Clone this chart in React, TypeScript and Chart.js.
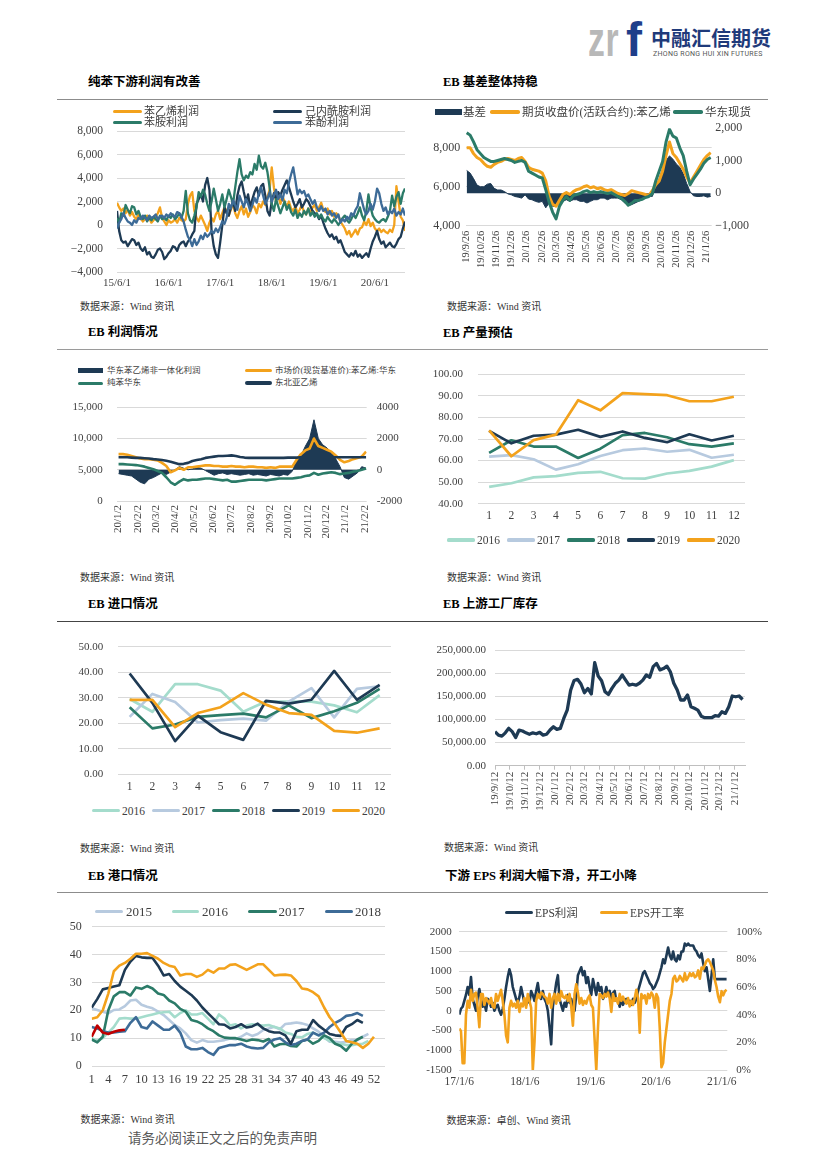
import React, { useEffect, useRef } from "react";
import { Chart, registerables } from "chart.js";
Chart.register(...registerables);

const SERIF = "'Liberation Serif', 'Noto Sans CJK SC', serif";
const CJK = "'Noto Sans CJK SC', sans-serif";
const ORANGE = "#f3a21c";
const NAVY = "#1e3a54";
const GREEN = "#2b7b68";
const STEEL = "#3d6b97";
const MINT = "#a4dccc";
const PALE = "#b7cadf";
const RED = "#c00000";
const GRID = "#d9d9d9";
const TICK = "#404040";

// ---------- Chart 1: 纯苯下游利润有改善 (half-month steps from 15/6/1) ----------
const C1_NAMES = ["苯乙烯利润", "己内酰胺利润", "苯胺利润", "苯酚利润"];
const C1_TICKS = ["15/6/1", "16/6/1", "17/6/1", "18/6/1", "19/6/1", "20/6/1"];
const C1_Y_TICKS = [-4000, -2000, 0, 2000, 4000, 6000, 8000];
const C1_STEP_MONTHS = 0.5;
const C1_STYRENE = [
  1900, 1500, 1200, 1400, 1000, 1300, 800, 1100, 700, 500,
  900, 600, 300, 500, 800, 600, 200, 400, 700, 1000,
  1500, 600, 300, 0, 400, 200, 300, 500, 200, 600,
  400, 300, 500, 1800, 2500, 2800, 1200, 600, 300, 800,
  400, 0, -500, 200, 600, 300, 900, 1200, 500, 1000,
  1500, 1200, 800, 1300, 1800, 1000, 600, 1200, 1600, 900,
  1400, 700, 1100, 1700, 1500, 1000, 1800, 1500, 2000, 1700,
  2400, 3000, 4900, 3200, 2000, 2600, 1800, 2400, 2000, 1500,
  2000, 1400, 1200, 1600, 1000, 1300, 1700, 1100, 900, 1400,
  1000, 1500, 1700, 1200, 1500, 1900, 1300, 1100, 1400, 900,
  1200, 700, 1000, 800, 300, 0, -300, -800, -500, -1000,
  -700, -400, -800, -300, -200, 300, 0, 500, -100, 200,
  -300, -500, -300, -600, -400, -600, -700, -400, -600, 0,
  3300, 2000, 700, 400, -500,
];
const C1_CAPRO = [
  1200, -500, -1300, -1500, -1400, -1800, -1500, -1200, -1300, -1700,
  -1500, -2000, -2200, -1900, -2500, -2300, -2700, -2800, -2500, -2100,
  -2000, -2300, -2900, -2700, -2400, -2200, -1800, -1900, -2200, -1700,
  -1500, -1400, -1800, -1400, -1200, -800, -500, 1800, 2200, 2600,
  2000, 3400, 4000, 3000, -500, -1800, -2500, -2800, -1500, 0,
  1500, 1000, 800, 1500, 2000, 1200, 2500, 3300, 3700, 2800,
  2000, 2600, 1500, 2200, 2800, 3200, 2500, 3300, 3500, 2500,
  1200, 800, 2000, 2700, 2200, 2800, 2500, 3000, 3400, 3800,
  3200, 2600, 2000, 1500, 1800, 2200, 1500, 1800, 2200, 2000,
  1600, 1200, 1000, 900, 500, 800, 200, -300, -700, -1000,
  -800, -1200, -1000, -1500, -1300, -1800, -2300, -2500, -2700, -2400,
  -2600, -2200, -2700, -2500, -2800, -2600, -2400, -2700, -2000, -1400,
  -1000, -500, -1200, -1600, -1400, -1900, -1700, -1500, -1800, -1900,
  -1600, -1200, -1000, -300, 300,
];
const C1_ANILINE = [
  600, 200, 1000, 800, 1700, 1300, 1000, 1600, 1500, 900,
  1200, 700, 500, 800, 300, 600, 400, 700, 500, 300,
  800, 500, 600, 400, 800, 600, 900, 500, 700, 1000,
  600, 1200, 2900, 1000, 400, 200, 800, 1500, 2800, 2400,
  3000, 2600, 1800, 1200, 2000, 3100, 2200, 1200, 1800, 2600,
  1500, 2200, 3000, 2400, 1800, 3200, 4500, 5600, 4300, 3800,
  4200, 4000, 4500, 4300, 5200, 4700, 5900, 5000, 4800, 5300,
  4500, 3200, 1800, 1200, 2200, 1600, 1000, 1500, 2000, 1300,
  1700, 1100, 800, 1300, 600, 1000, 700, 1200, 900, 1400,
  800, 1100, 700, 1000, 600, 900, 500, 300, 700, 400,
  200, 500, 300, 0, 300, 600, 800, 400, 200, 500,
  900, 600, 1000, 1500, 800, 400, 1200, 2600, 1500, 800,
  500, 300, 200, 400, 500, 300, 700, 1200, 2500, 1600,
  2400, 2800, 1800, 2700, 3100,
];
const C1_PHENOL = [
  -300, 200, 500, 1000, 600, 300, 200, 0, 400, 200,
  600, 500, 800, 600, 400, 800, 600, 700, 900, 500,
  700, 800, 600, 900, 700, 1000, 800, 700, 1100, 1000,
  700, 300, -400, -1000, -1300, -1800, -1200, -1700, -1400, -900,
  -1200, -700, -1000, -800, -500, -700, -300, -600, -200, 300,
  100, 600, 1800, 1400, 2100, 1700, 1300, 2500, 2000, 1500,
  2200, 1800, 1200, 1700, 2300, 1900, 2700, 3200, 2500, 1800,
  2200, 2800, 2000, 2500, 3000, 2200, 2600, 2100, 3000, 2700,
  3600, 4300, 4900, 3800, 2600, 3000, 2700, 2900, 2400, 2600,
  2200, 1800, 2100, 1500, 1200, 1600, 1200, 1400, 900, 1200,
  800, 1000, 600, 900, 200, 500, 300, 700, 500, 1000,
  800, 1300, 1600, 2700, 2000, 1300, 900, 1200, 1800, 1300,
  2000, 3100, 2700, 1800, 1200, 1500, 900, 1200, 1000, 1400,
  800, 1100, 900, 1400, 800,
];

// ---------- Chart 2: EB 基差整体持稳 (weekly from 19/9/26) ----------
const C2_NAMES = ["基差", "期货收盘价(活跃合约):苯乙烯", "华东现货"];
const C2_TICKS = ["19/9/26", "19/10/26", "19/11/26", "19/12/26", "20/1/26", "20/2/26", "20/3/26", "20/4/26", "20/5/26", "20/6/26", "20/7/26", "20/8/26", "20/9/26", "20/10/26", "20/11/26", "20/12/26", "21/1/26"];
const C2_LEFT_TICKS = [4000, 6000, 8000];
const C2_RIGHT_TICKS = [-1000, 0, 1000, 2000];
const C2_STEP_DAYS = 7;
const C2_FUTURES = [
  8000, 8000, 7700, 7500, 7400, 7200, 7050, 7000, 7150, 7250,
  7300, 7400, 7450, 7400, 7350, 7450, 7500, 7300, 7000, 6900,
  6850, 6800, 6700, 6300, 5500, 5100, 5000, 5300, 5600, 5700,
  5600, 5750, 5850, 5900, 6000, 6050, 5950, 6000, 5900, 5950,
  5850, 5800, 5850, 5750, 5650, 5600, 5550, 5650, 5800, 5750,
  5700, 5650, 5600, 5550, 5800, 6100, 6300, 6800, 7600, 8300,
  7700, 7500, 7200, 6900, 6500, 6200, 6500, 6800, 7100, 7400,
  7600, 7750,
];
const C2_SPOT = [
  8770, 8650, 8300, 7900, 7700, 7500, 7400, 7300, 7300, 7350,
  7400, 7450, 7400, 7350, 7250, 7300, 7350, 7250, 6800, 6700,
  6600, 6500, 6450, 5850, 5200, 4700, 4350, 5000, 5300, 5500,
  5300, 5550, 5600, 5650, 5750, 5800, 5700, 5750, 5700, 5750,
  5700, 5650, 5700, 5600, 5500, 5400, 5250, 5050, 5150, 5300,
  5300, 5350, 5450, 5500, 5650, 6300, 6800, 7300, 8300, 8950,
  8600, 8500, 8000, 7600, 6800, 6100, 6400, 6650, 6900, 7200,
  7400, 7500,
];
const C2_BASIS = [
  700, 620, 450, 250, 200, 200, 280, 300, 150, 100,
  100, 50, -20, -50, -100, -120, -150, -50, -180, -200,
  -250, -280, -250, -450, -300, -400, -400, -300, -250, -200,
  -250, -200, -200, -250, -250, -300, -250, -200, -200, -150,
  -150, -200, -150, -150, -150, -200, -300, -380, -350, -300,
  -250, -200, -150, -80, -100, 200, 450, 750, 1000, 1150,
  1050, 900, 800, 600, 300, 50, -80, -100, -100, -80,
  -120, -100,
];

// ---------- Chart 3: EB 利润情况 (weekly from 20/1/2) ----------
const C3_NAMES = ["华东苯乙烯非一体化利润", "市场价(现货基准价):苯乙烯:华东", "纯苯华东", "东北亚乙烯"];
const C3_TICKS = ["20/1/2", "20/2/2", "20/3/2", "20/4/2", "20/5/2", "20/6/2", "20/7/2", "20/8/2", "20/9/2", "20/10/2", "20/11/2", "20/12/2", "21/1/2", "21/2/2"];
const C3_LEFT_TICKS = [0, 5000, 10000, 15000];
const C3_RIGHT_TICKS = [-2000, 0, 2000, 4000];
const C3_STEP_DAYS = 7;
const C3_PROFIT = [
  -250, -300, -350, -400, -600, -800, -900, -600, -500, -350,
  -200, -300, -150, 0, 200, 100, 0, 50, 150, 100,
  -50, -200, -350, -250, -200, -300, -250, -300, -350, -300,
  -250, -350, -300, -350, -400, -300, -350, -400, -300, -350,
  -100, 600, 900, 1500, 2000, 3200, 2000, 1600, 1400, 1100,
  700, 200, -500, -600, -400, -200, 200, 100,
];
const C3_STYRENE = [
  7500, 7500, 7400, 7200, 7000, 6800, 6700, 6700, 6600, 6500,
  6100, 5600, 4600, 4900, 5300, 5000, 5400, 5400, 5500, 5600,
  5700, 5700, 5600, 5600, 5500, 5500, 5600, 5500, 5500, 5400,
  5500, 5500, 5400, 5400, 5300, 5400, 5300, 5500, 5500, 5500,
  5500, 6600, 7500, 8100, 8400, 10000, 8800, 8500, 8200, 7900,
  7300, 6600, 6200, 6400, 6700, 6900, 7100, 7900,
];
const C3_BENZENE = [
  5900, 5900, 5850, 5800, 5750, 5650, 5500, 5300, 5100, 4800,
  4500, 3800, 3000, 2600, 3100, 3500, 3300, 3400, 3400, 3500,
  3600, 3600, 3500, 3400, 3300, 3400, 3100, 3100, 3200, 3300,
  3400, 3400, 3400, 3400, 3300, 3400, 3500, 3600, 3600, 3600,
  3600, 3700, 3800, 4000, 4100, 4500, 4200, 4400, 4500, 4600,
  4500, 4300, 4400, 4500, 4700, 4800, 5000, 5200,
];
const C3_ETHYLENE = [
  7000, 7000, 7000, 6950, 6900, 6900, 6850, 6800, 6700, 6650,
  6550, 6450, 6300, 6100, 5900, 5950, 6100, 6400, 6550, 6700,
  6900, 7000, 7100, 7200, 7200, 7250, 7300, 7200, 7050, 6950,
  6900, 6900, 6900, 6900, 6900, 6900, 6900, 6900, 6900, 6950,
  6950, 6950, 7000, 7000, 7000, 7000, 7000, 7000, 7000, 7000,
  7000, 7000, 7000, 7000, 7000, 7000, 7000, 7000,
];

// ---------- Chart 4: EB 产量预估 ----------
const MONTHS = ["1", "2", "3", "4", "5", "6", "7", "8", "9", "10", "11", "12"];
const YEARS5 = ["2016", "2017", "2018", "2019", "2020"];
const C4_Y_TICKS = [40, 50, 60, 70, 80, 90, 100];
const C4_2016 = [47.8, 49.5, 52.2, 52.8, 54.3, 54.8, 51.8, 51.6, 54.0, 55.2, 57.2, 60.2];
const C4_2017 = [61.8, 62.5, 60.6, 55.8, 58.3, 62.1, 64.8, 65.6, 64.1, 65.0, 61.3, 62.7];
const C4_2018 = [63.6, 69.4, 66.5, 66.5, 61.2, 65.5, 71.8, 72.8, 70.8, 67.6, 66.5, 68.0];
const C4_2019 = [73.8, 68.0, 71.5, 72.0, 74.3, 71.0, 73.5, 70.5, 68.5, 72.2, 69.3, 71.5];
const C4_2020 = [74.0, 62.0, 69.5, 72.0, 88.0, 83.3, 91.3, 90.8, 90.3, 87.5, 87.5, 89.6];

// ---------- Chart 5: EB 进口情况 ----------
const C5_Y_TICKS = [0, 10, 20, 30, 40, 50];
const C5_2016 = [29.5, 24.5, 35.3, 35.3, 32.8, 24.5, 28.5, 28.5, 28.5, 27.0, 24.3, 31.0];
const C5_2017 = [22.5, 31.5, 28.3, 20.3, 21.2, 21.8, 21.0, 28.5, 33.8, 22.3, 33.5, 34.5];
const C5_2018 = [26.3, 18.0, 19.5, 22.5, 23.2, 23.8, 22.3, 27.0, 22.0, 24.7, 28.0, 33.5];
const C5_2019 = [39.5, 28.0, 13.0, 23.0, 16.5, 13.5, 28.8, 27.7, 29.2, 40.5, 29.2, 35.0];
const C5_2020 = [29.2, 29.2, 18.5, 24.0, 26.3, 31.8, 27.3, 24.0, 23.3, 17.0, 16.3, 18.0];

// ---------- Chart 6: EB 上游工厂库存 (weekly from 19/9/12) ----------
const C6_TICKS = ["19/9/12", "19/10/12", "19/11/12", "19/12/12", "20/1/12", "20/2/12", "20/3/12", "20/4/12", "20/5/12", "20/6/12", "20/7/12", "20/8/12", "20/9/12", "20/10/12", "20/11/12", "20/12/12", "21/1/12"];
const C6_Y_TICKS = [0, 50000, 100000, 150000, 200000, 250000];
const C6_STEP_DAYS = 7;
const C6_STOCK = [
  73500, 66000, 64000, 71000, 80700, 73500, 61000, 77000, 75000, 71000,
  68000, 71000, 69000, 72000, 66000, 68000, 77000, 84000, 78500, 80700,
  102000, 120000, 163000, 184000, 186600, 176500, 157800, 167000, 155000, 222600,
  193800, 183700, 160000, 154000, 167000, 178000, 185000, 196000, 185000, 174000,
  176000, 174000, 178000, 185000, 196000, 191000, 214000, 221000, 207000, 210000,
  215000, 203000, 178000, 163500, 142000, 142000, 152700, 127500, 124000, 120000,
  107000, 103700, 103700, 103700, 108000, 107000, 116700, 113000, 127500, 150600,
  149000, 150600, 143000,
];

// ---------- Chart 7: EB 港口情况 (weeks 1..52) ----------
const C7_NAMES = ["2015", "2016", "2017", "2018"];
const C7_TICKS = [1, 4, 7, 10, 13, 16, 19, 22, 25, 28, 31, 34, 37, 40, 43, 46, 49, 52];
const C7_Y_TICKS = [0, 10, 20, 30, 40, 50];
const C7_2015 = [20.7, 20.1, 19.5, 18.9, 20.1, 20.3, 21.5, 23.5, 23.8, 22, 21.3, 20.7, 19.5, 18.3, 16.5, 14.7, 13.5, 11.7, 9.3, 8.4, 9.3, 8.7, 8.7, 9, 9.3, 9.9, 9.6, 10.5, 11.7, 10.8, 11.5, 12.9, 13.5, 14.1, 13.2, 15.1, 15.3, 15.6, 15.3, 14.7, 13.5, 12.3, 10.5, 8.7, 8.7, 8.4, 8.7, 9.3, 9.3, 10.5, 11.5];
const C7_2016 = [10, 9, 10, 12, 14, 17, 17.2, 17, 17, 17.5, 18, 18.5, 19, 19.3, 19.5, 17.5, 19, 20, 18.5, 18.5, 19, 17, 15, 18.5, 17, 14.5, 15, 13.5, 14.5, 15, 14.7, 14.5, 14.7, 14, 13.5, 12, 11.5, 10.5, 10.3, 11.5, 12, 11, 10, 9, 8, 8, 7.5, 7.5, 7.8, 8, 9];
const C7_2017 = [9.5, 8.5, 10.5, 20, 25, 26.5, 26.5, 25.3, 28.2, 27.7, 28.7, 27.8, 26, 25.5, 23.5, 22.5, 20.5, 19.5, 16.5, 16, 15, 13.5, 12.5, 11, 10.2, 10, 10, 9.5, 9, 9.5, 9.3, 8.8, 9.7, 7, 7.8, 8, 7.2, 7, 9, 9.5, 8, 9, 11, 10, 8, 7.2, 5.5, 8, 9.5, 10.5];
const C7_2018 = [14, 13.5, 12.5, 12, 12, 12.3, 12.5, 15.5, 17.5, 14, 13.5, 16, 14.5, 13, 13, 14.5, 12, 7, 6, 6, 6.5, 5, 4, 6.5, 7, 7.5, 7.5, 8, 7, 6.5, 6.3, 6.5, 8.5, 9.5, 10, 8.5, 7.5, 8, 9, 9.5, 12, 11, 12, 14, 15.5, 16.5, 18, 18.3, 19, 18];
const C7_2019 = [21, 24, 27.5, 28, 28.5, 29, 34.5, 37.5, 39.5, 39, 38.8, 38.8, 36, 32.5, 33, 30.5, 28.5, 27, 25.5, 23.5, 21, 19, 17, 15, 14.8, 13.5, 14, 15, 13.8, 14.2, 15.2, 13.5, 12.5, 12, 12, 11, 8, 12.5, 13, 13, 16.5, 14.5, 13, 11.5, 11, 10.8, 14, 15, 16.5, 15.5];
const C7_2020 = [17, 17.5, 20, 26, 34, 36, 37, 38.5, 40.3, 40.3, 40.5, 39.5, 38.5, 37, 36, 35.5, 32.5, 33, 33, 32, 32.8, 34.5, 33.5, 35, 35, 36.3, 36.5, 35.5, 34.5, 35.5, 36.5, 36.5, 34.5, 32.5, 32.7, 32.8, 32.5, 30.5, 27.8, 27.5, 26.5, 25, 21, 17.5, 15, 12, 9, 8.5, 8, 6.5, 8, 10.5];
const C7_2021 = [10.5, 14.5, 12, 11.5, 12.3, 12.8, 13];

// ---------- Chart 8: 下游 EPS (every ~9.3 days from 17/1/6) ----------
const C8_NAMES = ["EPS利润", "EPS开工率"];
const C8_TICKS = ["17/1/6", "18/1/6", "19/1/6", "20/1/6", "21/1/6"];
const C8_LEFT_TICKS = [-1500, -1000, -500, 0, 500, 1000, 1500, 2000];
const C8_RIGHT_TICKS = [0, 20, 40, 60, 80, 100];
const C8_STEP_DAYS = 9.3;
const C8_PROFIT = [
  -100, 50, 100, 250, 400, 600, 400, 850, 300, 150,
  0, 350, 550, 300, 100, 200, 0, 300, 250, 100,
  200, 0, 100, 150, 0, -100, 50, 300, 600, 850,
  1050, 900, 600, 450, 300, 200, 350, 600, 400, 200,
  150, 300, 200, 500, 400, 250, 500, 700, 400, 300,
  500, 300, 200, 0, -400, -850, 100, 400, 700, 900,
  300, 150, 0, 200, 100, 400, 200, 300, 100, 0,
  400, 900, 1000, 1100, 900, 1000, 700, 850, 600, 400,
  800, 600, 400, 700, 500, 600, 300, 400, 600, 400,
  500, 300, 450, 500, 250, 300, 100, 300, 150, 250,
  300, 200, 250, 150, 300, 200, 300, 500, 650, 800,
  950, 1000, 900, 800, 700, 650, 550, 600, 700, 800,
  950, 1100, 1300, 1200, 1400, 1600, 1400, 1300, 1500, 1300,
  1250, 1400, 1300, 1500, 1500, 1700, 1650, 1700, 1650, 1650,
  1650, 1550, 1500, 1400, 1350, 1450, 1200, 1000, 1100, 800,
  500, 900, 1300, 800, 800, 800, 800, 800, 800, 800,
  800,
];
const C8_RATE = [
  30, 28, 5, 5, 40, 50, 45, 58, 50, 55,
  56, 45, 31, 55, 55, 47, 52, 50, 48, 52,
  46, 45, 55, 50, 54, 58, 50, 40, 25, 20,
  45, 50, 46, 48, 45, 50, 42, 48, 46, 52,
  45, 55, 50, 45, 0, 20, 50, 55, 52, 56,
  55, 53, 52, 48, 55, 45, 52, 55, 48, 55,
  50, 57, 53, 52, 54, 50, 55, 46, 32, 55,
  62, 56, 48, 52, 47, 50, 48, 52, 54, 47,
  45, 22, 0, 30, 55, 54, 52, 55, 53, 56,
  52, 42, 55, 50, 52, 48, 55, 50, 53, 50,
  48, 52, 46, 50, 47, 52, 58, 52, 27, 55,
  52, 54, 48, 55, 52, 56, 54, 45, 55, 52,
  30, 2, 5, 20, 30, 40, 50, 55, 66, 68,
  64, 65, 68, 66, 64, 70, 65, 67, 70, 68,
  70, 67, 68, 72, 66, 74, 73, 76, 79, 80,
  78, 75, 72, 65, 60, 53, 49, 57, 54, 57,
  58,
];

// ---------- helpers ----------
type Rect = { l: number; t: number; r: number; b: number };
const dayNum = (s: string) => {
  const [y, m, d] = s.split("/").map(Number);
  return Date.UTC(2000 + y, m - 1, d) / 86400000;
};
const monthNum = (s: string) => {
  const [y, m] = s.split("/").map(Number);
  return y * 12 + m - 1;
};
const pts = (vals: number[], step: number, start = 0) => vals.map((v, i) => ({ x: start + i * step, y: v }));
const comma = (v: number) => (v < 0 ? "−" : "") + Math.abs(v).toLocaleString("en-US");
const zeroPad = (s: any) => {
  s.paddingTop = 0;
  s.paddingBottom = 0;
  s.paddingLeft = 0;
  s.paddingRight = 0;
};
const NO_GRID = { display: false, drawTicks: false, drawOnChartArea: false };

function yScale(o: { pos?: "left" | "right"; min: number; max: number; ticks: number[]; width: number; pad: number; size: number; fmt: (v: number) => string; grid?: boolean }) {
  const g = o.grid !== false;
  return {
    type: "linear",
    position: o.pos || "left",
    min: o.min,
    max: o.max,
    afterBuildTicks: (s: any) => {
      s.ticks = o.ticks.map((v) => ({ value: v }));
    },
    afterFit: (s: any) => {
      s.width = o.width;
      zeroPad(s);
    },
    grid: g ? { display: true, drawOnChartArea: true, color: GRID, lineWidth: 1, drawTicks: false } : NO_GRID,
    border: { display: false },
    ticks: { padding: o.pad, color: TICK, font: { family: SERIF, size: o.size }, callback: (v: any) => o.fmt(Number(v)) },
  };
}

function xLinear(o: { min: number; max: number; ticks: number[]; labels: string[]; height: number; pad: number; size: number; rotate?: boolean; marks?: boolean }) {
  return {
    type: "linear",
    position: "bottom",
    min: o.min,
    max: o.max,
    afterBuildTicks: (s: any) => {
      s.ticks = o.ticks.map((v) => ({ value: v }));
    },
    afterFit: (s: any) => {
      s.height = o.height;
      zeroPad(s);
    },
    grid: o.marks ? { display: true, drawOnChartArea: false, drawTicks: true, tickLength: 4, color: "#bfbfbf" } : NO_GRID,
    border: { display: !!o.marks, color: "#bfbfbf" },
    ticks: {
      autoSkip: false,
      maxRotation: o.rotate ? 90 : 0,
      minRotation: o.rotate ? 90 : 0,
      padding: o.pad,
      color: TICK,
      font: { family: SERIF, size: o.size },
      callback: (_v: any, i: number) => o.labels[i],
    },
  };
}

function xCategory(o: { height: number; pad: number; size: number }) {
  return {
    type: "category",
    position: "bottom",
    offset: true,
    afterFit: (s: any) => {
      s.height = o.height;
      zeroPad(s);
    },
    grid: NO_GRID,
    border: { display: false },
    ticks: { autoSkip: false, maxRotation: 0, minRotation: 0, padding: o.pad, color: TICK, font: { family: SERIF, size: o.size } },
  };
}

function options(canvas: Rect, plot: Rect, hasRight: boolean, scales: any) {
  return {
    animation: false,
    responsive: true,
    maintainAspectRatio: false,
    events: [],
    layout: { padding: { top: plot.t - canvas.t, right: hasRight ? 0 : canvas.r - plot.r, left: 0, bottom: 0 } },
    plugins: { legend: { display: false }, tooltip: { enabled: false }, title: { display: false } },
    scales,
  };
}

const line = (label: string, data: any, color: string, width: number, extra: any = {}) => ({
  type: "line",
  label,
  data,
  borderColor: color,
  backgroundColor: color,
  borderWidth: width,
  pointRadius: 0,
  tension: 0,
  fill: false,
  borderJoinStyle: "round",
  ...extra,
});

// ---------- layout rects ----------
const R1C: Rect = { l: 55, t: 120, r: 412, b: 295 };
const R1P: Rect = { l: 117, t: 131, r: 405, b: 272 };
const R2C: Rect = { l: 415, t: 118, r: 775, b: 285 };
const R2P: Rect = { l: 465.7, t: 128.3, r: 711.7, b: 225.7 };
const R3C: Rect = { l: 55, t: 398, r: 420, b: 555 };
const R3P: Rect = { l: 116.7, t: 407.3, r: 366.7, b: 501 };
const R4C: Rect = { l: 415, t: 364, r: 760, b: 528 };
const R4P: Rect = { l: 478, t: 374.3, r: 745, b: 503.7 };
const R5C: Rect = { l: 55, t: 636, r: 405, b: 798 };
const R5P: Rect = { l: 118.3, t: 646.7, r: 391, b: 774.3 };
const R6C: Rect = { l: 415, t: 640, r: 760, b: 825 };
const R6P: Rect = { l: 495, t: 650, r: 745, b: 765.7 };
const R7C: Rect = { l: 45, t: 916, r: 395, b: 1092 };
const R7P: Rect = { l: 91.7, t: 926.7, r: 385, b: 1066 };
const R8C: Rect = { l: 405, t: 922, r: 775, b: 1095 };
const R8P: Rect = { l: 459.3, t: 931.7, r: 727.3, b: 1070 };

// ---------- chart configs ----------
function cfg1() {
  const base = monthNum(C1_TICKS[0]);
  return {
    type: "line",
    data: {
      datasets: [
        line(C1_NAMES[3], pts(C1_PHENOL, C1_STEP_MONTHS), STEEL, 2.3),
        line(C1_NAMES[2], pts(C1_ANILINE, C1_STEP_MONTHS), GREEN, 2.3),
        line(C1_NAMES[1], pts(C1_CAPRO, C1_STEP_MONTHS), NAVY, 2.3),
        line(C1_NAMES[0], pts(C1_STYRENE, C1_STEP_MONTHS), ORANGE, 2.3),
      ],
    },
    options: options(R1C, R1P, false, {
      x: xLinear({ min: 0, max: (C1_STYRENE.length - 1) * C1_STEP_MONTHS, ticks: C1_TICKS.map((t) => monthNum(t) - base), labels: C1_TICKS, height: R1C.b - R1P.b, pad: 4.5, size: 11 }),
      y: yScale({ min: -4000, max: 8000, ticks: C1_Y_TICKS, width: R1P.l - R1C.l, pad: 14, size: 11.5, fmt: comma }),
    }),
  };
}

function cfg2() {
  const base = dayNum(C2_TICKS[0]);
  return {
    type: "line",
    data: {
      datasets: [
        line(C2_NAMES[2], pts(C2_SPOT, C2_STEP_DAYS), GREEN, 3, { yAxisID: "y" }),
        line(C2_NAMES[1], pts(C2_FUTURES, C2_STEP_DAYS), ORANGE, 3, { yAxisID: "y" }),
        line(C2_NAMES[0], pts(C2_BASIS, C2_STEP_DAYS), NAVY, 1, { yAxisID: "yR", fill: "origin", backgroundColor: NAVY }),
      ],
    },
    options: options(R2C, R2P, true, {
      x: xLinear({ min: -2, max: 499, ticks: C2_TICKS.map((t) => dayNum(t) - base), labels: C2_TICKS, height: R2C.b - R2P.b, pad: 5, size: 10.5, rotate: true }),
      y: yScale({ min: 4000, max: 9000, ticks: C2_LEFT_TICKS, width: R2P.l - R2C.l, pad: 5.5, size: 12, fmt: comma }),
      yR: yScale({ pos: "right", min: -1000, max: 2000, ticks: C2_RIGHT_TICKS, width: R2C.r - R2P.r, pad: 3.5, size: 12, fmt: comma, grid: false }),
    }),
  };
}

function cfg3() {
  const base = dayNum(C3_TICKS[0]);
  return {
    type: "line",
    data: {
      datasets: [
        line(C3_NAMES[3], pts(C3_ETHYLENE, C3_STEP_DAYS), NAVY, 2.6, { yAxisID: "y" }),
        line(C3_NAMES[1], pts(C3_STYRENE, C3_STEP_DAYS), ORANGE, 2.6, { yAxisID: "y" }),
        line(C3_NAMES[2], pts(C3_BENZENE, C3_STEP_DAYS), GREEN, 2.6, { yAxisID: "y" }),
        line(C3_NAMES[0], pts(C3_PROFIT, C3_STEP_DAYS), NAVY, 1, { yAxisID: "yR", fill: "origin", backgroundColor: NAVY }),
      ],
    },
    options: options(R3C, R3P, true, {
      x: xLinear({ min: -3, max: 400, ticks: C3_TICKS.map((t) => dayNum(t) - base), labels: C3_TICKS, height: R3C.b - R3P.b, pad: 4, size: 11, rotate: true }),
      y: yScale({ min: 0, max: 15000, ticks: C3_LEFT_TICKS, width: R3P.l - R3C.l, pad: 14, size: 11, fmt: comma }),
      yR: yScale({ pos: "right", min: -2000, max: 4000, ticks: C3_RIGHT_TICKS, width: R3C.r - R3P.r, pad: 10, size: 11, fmt: (v) => String(v), grid: false }),
    }),
  };
}

function cfgYears(canvas: Rect, plot: Rect, series: number[][], yTicks: number[], yMin: number, yMax: number, xPad: number) {
  const colors = [MINT, PALE, GREEN, NAVY, ORANGE];
  const ds = series.map((s, i) => line(YEARS5[i], s, colors[i], 2.7)).reverse();
  return {
    type: "line",
    data: { labels: MONTHS, datasets: ds },
    options: options(canvas, plot, false, {
      x: xCategory({ height: canvas.b - plot.b, pad: xPad, size: 11.5 }),
      y: yScale({ min: yMin, max: yMax, ticks: yTicks, width: plot.l - canvas.l, pad: 15, size: 11, fmt: (v) => v.toFixed(2) }),
    }),
  };
}

function cfg6() {
  const base = dayNum(C6_TICKS[0]);
  return {
    type: "line",
    data: { datasets: [line("库存", pts(C6_STOCK, C6_STEP_DAYS), NAVY, 3.3)] },
    options: options(R6C, R6P, false, {
      x: xLinear({ min: 0, max: 509, ticks: C6_TICKS.map((t) => dayNum(t) - base), labels: C6_TICKS, height: R6C.b - R6P.b, pad: 2, size: 11, rotate: true, marks: true }),
      y: yScale({ min: 0, max: 250000, ticks: C6_Y_TICKS, width: R6P.l - R6C.l, pad: 9, size: 11, fmt: (v) => v.toLocaleString("en-US", { minimumFractionDigits: 2, maximumFractionDigits: 2 }) }),
    }),
  };
}

function cfg7() {
  return {
    type: "line",
    data: {
      datasets: [
        line("2021", pts(C7_2021, 1, 1), RED, 2.6),
        line("2020", pts(C7_2020, 1, 1), ORANGE, 2.6),
        line("2019", pts(C7_2019, 1, 1), NAVY, 2.6),
        line(C7_NAMES[3], pts(C7_2018, 1, 1), STEEL, 2.6),
        line(C7_NAMES[2], pts(C7_2017, 1, 1), GREEN, 2.6),
        line(C7_NAMES[1], pts(C7_2016, 1, 1), MINT, 2.6),
        line(C7_NAMES[0], pts(C7_2015, 1, 1), PALE, 2.6),
      ],
    },
    options: options(R7C, R7P, false, {
      x: xLinear({ min: 1, max: 54, ticks: C7_TICKS, labels: C7_TICKS.map(String), height: R7C.b - R7P.b, pad: 6, size: 12.5 }),
      y: yScale({ min: 0, max: 50, ticks: C7_Y_TICKS, width: R7P.l - R7C.l, pad: 10, size: 12, fmt: (v) => String(v) }),
    }),
  };
}

function cfg8() {
  const base = dayNum(C8_TICKS[0]);
  return {
    type: "line",
    data: {
      datasets: [
        line(C8_NAMES[1], pts(C8_RATE, C8_STEP_DAYS), ORANGE, 2.6, { yAxisID: "yR" }),
        line(C8_NAMES[0], pts(C8_PROFIT, C8_STEP_DAYS), NAVY, 2.6, { yAxisID: "y" }),
      ],
    },
    options: options(R8C, R8P, true, {
      x: xLinear({ min: 0, max: 1492, ticks: C8_TICKS.map((t) => dayNum(t) - base), labels: C8_TICKS, height: R8C.b - R8P.b, pad: 5, size: 11.5 }),
      y: yScale({ min: -1500, max: 2000, ticks: C8_LEFT_TICKS, width: R8P.l - R8C.l, pad: 7.5, size: 11, fmt: (v) => String(v) }),
      yR: yScale({ pos: "right", min: 0, max: 100, ticks: C8_RIGHT_TICKS, width: R8C.r - R8P.r, pad: 9, size: 11, fmt: (v) => v + "%", grid: false }),
    }),
  };
}

// ---------- components ----------
function ChartBox({ rect, make }: { rect: Rect; make: () => any }) {
  const ref = useRef<HTMLCanvasElement | null>(null);
  useEffect(() => {
    if (!ref.current) return;
    const chart = new Chart(ref.current, make());
    return () => chart.destroy();
  }, []);
  return (
    <div style={{ position: "absolute", left: rect.l, top: rect.t, width: rect.r - rect.l, height: rect.b - rect.t }}>
      <canvas ref={ref} />
    </div>
  );
}

function Txt({ x, y, size, children, color = "#000", weight = 400, family = SERIF, style = {} }: any) {
  const lh = size * 1.4;
  return (
    <div style={{ position: "absolute", left: x, top: y - lh / 2, fontSize: size, lineHeight: `${lh}px`, color, fontWeight: weight, fontFamily: family, whiteSpace: "nowrap", ...style }}>
      {children}
    </div>
  );
}

type Leg = { label: string; color: string; x: number; y: number; w: number; h: number; tx: number };
function Legend({ items, size }: { items: Leg[]; size: number }) {
  return (
    <>
      {items.map((it, i) => (
        <React.Fragment key={i}>
          <div style={{ position: "absolute", left: it.x, top: it.y - it.h / 2, width: it.w, height: it.h, background: it.color, borderRadius: it.h > 4 ? 0 : it.h / 2 }} />
          <Txt x={it.tx} y={it.y} size={size} color={TICK}>
            {it.label}
          </Txt>
        </React.Fragment>
      ))}
    </>
  );
}

function Logo() {
  return (
    <>
      <div style={{ position: "absolute", left: 588, top: 16, fontFamily: "'Liberation Sans', sans-serif", fontSize: 48, lineHeight: "48px", fontWeight: 700, color: "#b8b8b8", transform: "scaleX(0.7)", transformOrigin: "left top", letterSpacing: 1 }}>zr</div>
      <div style={{ position: "absolute", left: 626, top: 16, fontFamily: "'Liberation Sans', sans-serif", fontSize: 48, lineHeight: "48px", fontWeight: 700, color: "#1f3e8a" }}>f</div>
      <Txt x={651} y={38} size={20} weight={700} family={CJK} color="#1f3a7a">中融汇信期货</Txt>
      <Txt x={653} y={55} size={7} family="Roboto, sans-serif" color="#555" style={{ letterSpacing: 0.3 }}>ZHONG RONG HUI XIN FUTURES</Txt>
    </>
  );
}

export default function App() {
  const titles: [string, number, number][] = [
    ["纯苯下游利润有改善", 88, 83],
    ["EB 基差整体持稳", 443, 83],
    ["EB 利润情况", 88, 333],
    ["EB 产量预估", 443, 334],
    ["EB 进口情况", 88, 605],
    ["EB 上游工厂库存", 443, 605],
    ["EB 港口情况", 88, 877],
    ["下游 EPS 利润大幅下滑，开工小降", 445, 877],
  ];
  const rules: [number, string][] = [
    [99.5, "#8c8c8c"],
    [349.5, "#9a9a9a"],
    [621.5, "#444"],
    [892.5, "#8c8c8c"],
  ];
  const sources: [string, number, number][] = [
    ["数据来源：Wind 资讯", 80, 306.5],
    ["数据来源：Wind 资讯", 447, 306.5],
    ["数据来源：Wind 资讯", 80, 577.5],
    ["数据来源：Wind 资讯", 447, 578],
    ["数据来源：Wind 资讯", 80, 849],
    ["数据来源：Wind 资讯", 444, 848],
    ["数据来源：Wind 资讯", 80.5, 1120],
    ["数据来源：卓创、Wind 资讯", 446.5, 1121],
  ];
  const legY4 = 540;
  const legY5 = 810.7;
  const yearColors = [MINT, PALE, GREEN, NAVY, ORANGE];
  const c4x = [447, 507, 567, 627, 687];
  const c5x = [92, 152, 212, 272, 332];
  return (
    <div style={{ position: "absolute", left: 0, top: 0, width: 826, height: 1169, background: "#fff", overflow: "hidden", fontFamily: SERIF }}>
      <Logo />
      {titles.map(([t, x, y], i) => (
        <Txt key={"t" + i} x={x} y={y} size={12.5} weight={700}>
          {t}
        </Txt>
      ))}
      {rules.map(([y, c], i) => (
        <div key={"r" + i} style={{ position: "absolute", left: 57, top: y - 0.75, width: 711, height: 1.5, background: c }} />
      ))}
      {sources.map(([t, x, y], i) => (
        <Txt key={"s" + i} x={x} y={y} size={10} color="#333">
          {t}
        </Txt>
      ))}
      <Txt x={128} y={1137} size={13.5} color="#595959" family={CJK}>
        请务必阅读正文之后的免责声明
      </Txt>

      <ChartBox rect={R1C} make={cfg1} />
      <ChartBox rect={R2C} make={cfg2} />
      <ChartBox rect={R3C} make={cfg3} />
      <ChartBox rect={R4C} make={() => cfgYears(R4C, R4P, [C4_2016, C4_2017, C4_2018, C4_2019, C4_2020], C4_Y_TICKS, 40, 100, 5.5)} />
      <ChartBox rect={R5C} make={() => cfgYears(R5C, R5P, [C5_2016, C5_2017, C5_2018, C5_2019, C5_2020], C5_Y_TICKS, 0, 50, 6)} />
      <ChartBox rect={R6C} make={cfg6} />
      <ChartBox rect={R7C} make={cfg7} />
      <ChartBox rect={R8C} make={cfg8} />

      <Legend
        size={11}
        items={[
          { label: C1_NAMES[0], color: ORANGE, x: 113, y: 111.7, w: 29, h: 3.5, tx: 144 },
          { label: C1_NAMES[1], color: NAVY, x: 273, y: 111.7, w: 29, h: 3.5, tx: 305 },
          { label: C1_NAMES[2], color: GREEN, x: 113, y: 122.7, w: 29, h: 3.5, tx: 144 },
          { label: C1_NAMES[3], color: STEEL, x: 273, y: 122.7, w: 29, h: 3.5, tx: 305 },
        ]}
      />
      <Legend
        size={11.5}
        items={[
          { label: C2_NAMES[0], color: NAVY, x: 435, y: 112, w: 27, h: 6.5, tx: 463 },
          { label: C2_NAMES[1], color: ORANGE, x: 490, y: 112, w: 30, h: 3.5, tx: 522 },
          { label: C2_NAMES[2], color: GREEN, x: 673, y: 112, w: 30, h: 3.5, tx: 705 },
        ]}
      />
      <Legend
        size={8.5}
        items={[
          { label: C3_NAMES[0], color: NAVY, x: 78, y: 370.7, w: 25, h: 5, tx: 107 },
          { label: C3_NAMES[1], color: ORANGE, x: 245, y: 370.7, w: 27, h: 3.5, tx: 275 },
          { label: C3_NAMES[2], color: GREEN, x: 78, y: 383.3, w: 25, h: 3.5, tx: 107 },
          { label: C3_NAMES[3], color: NAVY, x: 245, y: 383.3, w: 27, h: 4, tx: 275 },
        ]}
      />
      <Legend size={11.5} items={YEARS5.map((y, i) => ({ label: y, color: yearColors[i], x: c4x[i], y: legY4, w: 28, h: 3.2, tx: c4x[i] + 30 }))} />
      <Legend size={11.5} items={YEARS5.map((y, i) => ({ label: y, color: yearColors[i], x: c5x[i], y: legY5, w: 28, h: 3.2, tx: c5x[i] + 30 }))} />
      <Legend
        size={13}
        items={[
          { label: C7_NAMES[0], color: PALE, x: 95, y: 911.7, w: 28, h: 3.2, tx: 126 },
          { label: C7_NAMES[1], color: MINT, x: 172, y: 911.7, w: 27, h: 3.2, tx: 202 },
          { label: C7_NAMES[2], color: GREEN, x: 248, y: 911.7, w: 29, h: 3.2, tx: 278.5 },
          { label: C7_NAMES[3], color: STEEL, x: 325, y: 911.7, w: 28, h: 3.2, tx: 355 },
        ]}
      />
      <Legend
        size={11.5}
        items={[
          { label: C8_NAMES[0], color: NAVY, x: 505, y: 912.7, w: 28, h: 3.5, tx: 535 },
          { label: C8_NAMES[1], color: ORANGE, x: 600, y: 912.7, w: 28, h: 3.5, tx: 630 },
        ]}
      />
    </div>
  );
}
